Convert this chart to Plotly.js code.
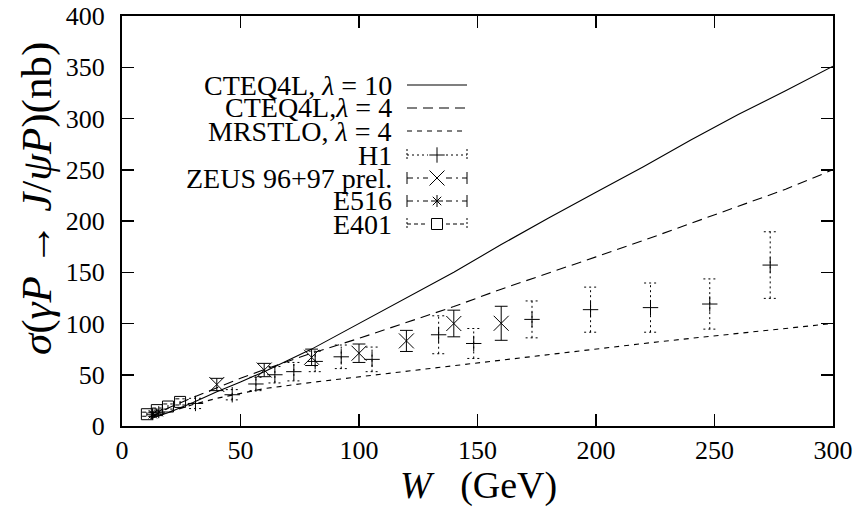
<!DOCTYPE html>
<html>
<head>
<meta charset="utf-8">
<script src="https://cdn.plot.ly/plotly-3.0.1.min.js"></script>
<style>
  html, body { margin: 0; padding: 0; background: #fff; }
  #chart { width: 855px; height: 507px; }
</style>
</head>
<body>
<div id="chart"></div>
<script>
// Theory curves: sigma(gamma P -> J/psi P) in nb versus W in GeV
const W_curve   = [12, 20, 30, 40, 50, 60, 80, 100, 120, 140, 160, 180, 200, 220, 240, 260, 280, 300];
const cteq4l_10 = [7, 13.5, 23, 33.5, 43, 53, 75, 100, 124.5, 150, 177, 203, 228, 253, 279, 304, 327, 351];
const cteq4l_4  = [9, 18, 28, 37.5, 46.5, 55, 71, 85.5, 101, 116.5, 133.5, 149, 165, 181, 197.5, 214, 231, 250];
const mrstlo_4  = [8, 14, 21, 27, 32, 36.5, 42.5, 48, 53, 58.5, 64, 70, 75.5, 80.5, 85.5, 90.5, 95.5, 100];

// H1 measurements
const h1_W   = [31, 46.5, 56.5, 64.5, 72.5, 81.5, 92.5, 105.5, 133.6, 148.4, 173, 197.7, 223, 248, 273.5];
const h1_sig = [22, 30.5, 41, 50, 53, 63, 67.5, 65, 89, 80.5, 104, 113.5, 115.5, 119, 157];
const h1_err = [5, 5, 6.5, 8, 9, 10, 11.5, 12, 18.5, 14.6, 18, 22, 24, 24.5, 32.5];

// ZEUS 96+97 preliminary
const zeus_W   = [40, 60, 80, 100, 120, 140, 160];
const zeus_sig = [40.5, 54.6, 67, 71, 83, 100, 100.2];
const zeus_err = [6, 6.5, 8, 9, 10.3, 13, 16.6];

// E516
const e516_W   = [13.0, 15.5];
const e516_sig = [11.5, 13.5];
const e516_err = [2, 2];

// E401
const e401_W   = [10.5, 14.7, 19.4, 24.5];
const e401_sig = [11.5, 15.5, 19, 23.5];
const e401_err = [2, 2, 2.5, 3];

const FONT = 'Liberation Serif, DejaVu Serif, serif';
const INK = '#000';

// plot area in pixels
const M = { l: 122, r: 22, t: 16, b: 81 };
const PW = 855 - M.l - M.r, PH = 507 - M.t - M.b;
const px = v => (v - M.l) / PW;          // page x -> paper
const py = v => (507 - M.b - v) / PH;    // page y -> paper

// error bars as line segments with end caps (cap half width in W units)
function errorBars(xs, ys, es, capHalf) {
  const x = [], y = [];
  xs.forEach((xv, i) => {
    const lo = ys[i] - es[i], hi = ys[i] + es[i];
    x.push(xv, xv, null, xv - capHalf, xv + capHalf, null, xv - capHalf, xv + capHalf, null);
    y.push(lo, hi, null, lo, lo, null, hi, hi, null);
  });
  return { x, y };
}

const traces = [];
function curve(y, dash) {
  traces.push({ x: W_curve, y: y, type: 'scatter', mode: 'lines',
    line: { color: INK, width: 1.1, dash: dash }, hoverinfo: 'skip', showlegend: false });
}
curve(cteq4l_10, 'solid');
curve(cteq4l_4, '10px,6px');
curve(mrstlo_4, '5px,5px');

function dataset(xs, ys, es, cap, dash, symbol, size) {
  const eb = errorBars(xs, ys, es, cap);
  traces.push({ x: eb.x, y: eb.y, type: 'scatter', mode: 'lines',
    line: { color: INK, width: 1, dash: dash }, hoverinfo: 'skip', showlegend: false, connectgaps: false });
  traces.push({ x: xs, y: ys, type: 'scatter', mode: 'markers',
    marker: { symbol: symbol, size: size, color: INK, line: { color: INK, width: 1 } },
    showlegend: false });
}
dataset(h1_W, h1_sig, h1_err, 2.7, '2px,3px', 'cross-thin-open', 11);
dataset(zeus_W, zeus_sig, zeus_err, 2.7, 'solid', 'x-thin-open', 15);
dataset(e516_W, e516_sig, e516_err, 2.0, 'solid', 'asterisk-open', 10);
dataset(e401_W, e401_sig, e401_err, 2.0, '4px,3px', 'square-open', 11);

// key: text on the left, sample on the right, drawn on an overlay paper-scaled axis
const keyRows = [
  { label: 'CTEQ4L, <i>λ</i> = 10', y: 85,  dash: 'solid' },
  { label: 'CTEQ4L,<i>λ</i> = 4',   y: 108, dash: '10px,6px' },
  { label: 'MRSTLO, <i>λ</i> = 4',  y: 131, dash: '5px,5px' },
  { label: 'H1',                  y: 155, dash: '2px,3px', symbol: 'cross-thin-open', size: 11 },
  { label: 'ZEUS 96+97 prel.',    y: 178, dash: '6px,4px,2px,4px', symbol: 'x-thin-open', size: 15, solidCaps: true },
  { label: 'E516',                y: 201, dash: '6px,4px,2px,4px', symbol: 'asterisk-open', size: 10, solidCaps: true },
  { label: 'E401',                y: 224, dash: '4px,3px', symbol: 'square-open', size: 11 }
];
const keyTextRight = 394, keyX0 = 407, keyX1 = 467, keyMid = 437;
const annotations = [];
keyRows.forEach(r => {
  annotations.push({ xref: 'paper', yref: 'paper', x: px(keyTextRight), y: py(r.y),
    xanchor: 'right', yanchor: 'middle', showarrow: false, text: r.label,
    font: { family: FONT, size: 28, color: INK } });
  if (r.symbol) {
    const g = 9;
    traces.push({ x: [px(keyX0), px(keyMid - g), null, px(keyMid + g), px(keyX1)],
      y: [py(r.y), py(r.y), null, py(r.y), py(r.y)], xaxis: 'x2', yaxis: 'y2',
      type: 'scatter', mode: 'lines', line: { color: INK, width: 1, dash: r.dash },
      hoverinfo: 'skip', showlegend: false });
    traces.push({ x: [px(keyX0), px(keyX0), null, px(keyX1), px(keyX1)],
      y: [py(r.y - 6), py(r.y + 6), null, py(r.y - 6), py(r.y + 6)], xaxis: 'x2', yaxis: 'y2',
      type: 'scatter', mode: 'lines', line: { color: INK, width: 1, dash: r.solidCaps ? 'solid' : '2px,2px' },
      hoverinfo: 'skip', showlegend: false });
    traces.push({ x: [px(keyMid)], y: [py(r.y)], xaxis: 'x2', yaxis: 'y2', type: 'scatter', mode: 'markers',
      marker: { symbol: r.symbol, size: r.size, color: INK, line: { color: INK, width: 1 } },
      hoverinfo: 'skip', showlegend: false });
  } else {
    traces.push({ x: [px(keyX0), px(keyX1)], y: [py(r.y), py(r.y)], xaxis: 'x2', yaxis: 'y2',
      type: 'scatter', mode: 'lines', line: { color: INK, width: 1.1, dash: r.dash },
      hoverinfo: 'skip', showlegend: false });
  }
});

// axis titles
annotations.push({ xref: 'paper', yref: 'paper', x: px(478), y: py(486), xanchor: 'center', yanchor: 'middle',
  showarrow: false, text: '<i>W</i>\u00a0\u00a0\u00a0(GeV)', font: { family: FONT, size: 38, color: INK } });
annotations.push({ xref: 'paper', yref: 'paper', x: px(37), y: py(199), xanchor: 'center', yanchor: 'middle',
  textangle: -90, showarrow: false,
  text: '<i>σ</i>(<i>γP</i>\u00a0→\u00a0<i>J</i>/<i>ψP</i>)(nb)', font: { family: FONT, size: 43, color: INK } });

const axisCommon = {
  showline: true, linecolor: INK, linewidth: 2, mirror: 'ticks',
  ticks: 'inside', ticklen: 12, tickwidth: 1.5, tickcolor: INK,
  showgrid: false, zeroline: false,
  tickfont: { family: FONT, size: 26, color: INK }
};

const layout = {
  width: 855, height: 507,
  margin: M,
  font: { family: FONT, color: INK },
  paper_bgcolor: '#fff', plot_bgcolor: '#fff',
  showlegend: false,
  xaxis: Object.assign({ range: [0, 300], dtick: 50, tick0: 0, ticklabelstandoff: 0 }, axisCommon),
  yaxis: Object.assign({ range: [0, 400], dtick: 50, tick0: 0, ticklabelstandoff: 10 }, axisCommon),
  xaxis2: { overlaying: 'x', range: [0, 1], visible: false, fixedrange: true },
  yaxis2: { overlaying: 'y', range: [0, 1], visible: false, fixedrange: true },
  annotations: annotations
};

Plotly.newPlot('chart', traces, layout, { staticPlot: true, displayModeBar: false });
</script>
</body>
</html>
